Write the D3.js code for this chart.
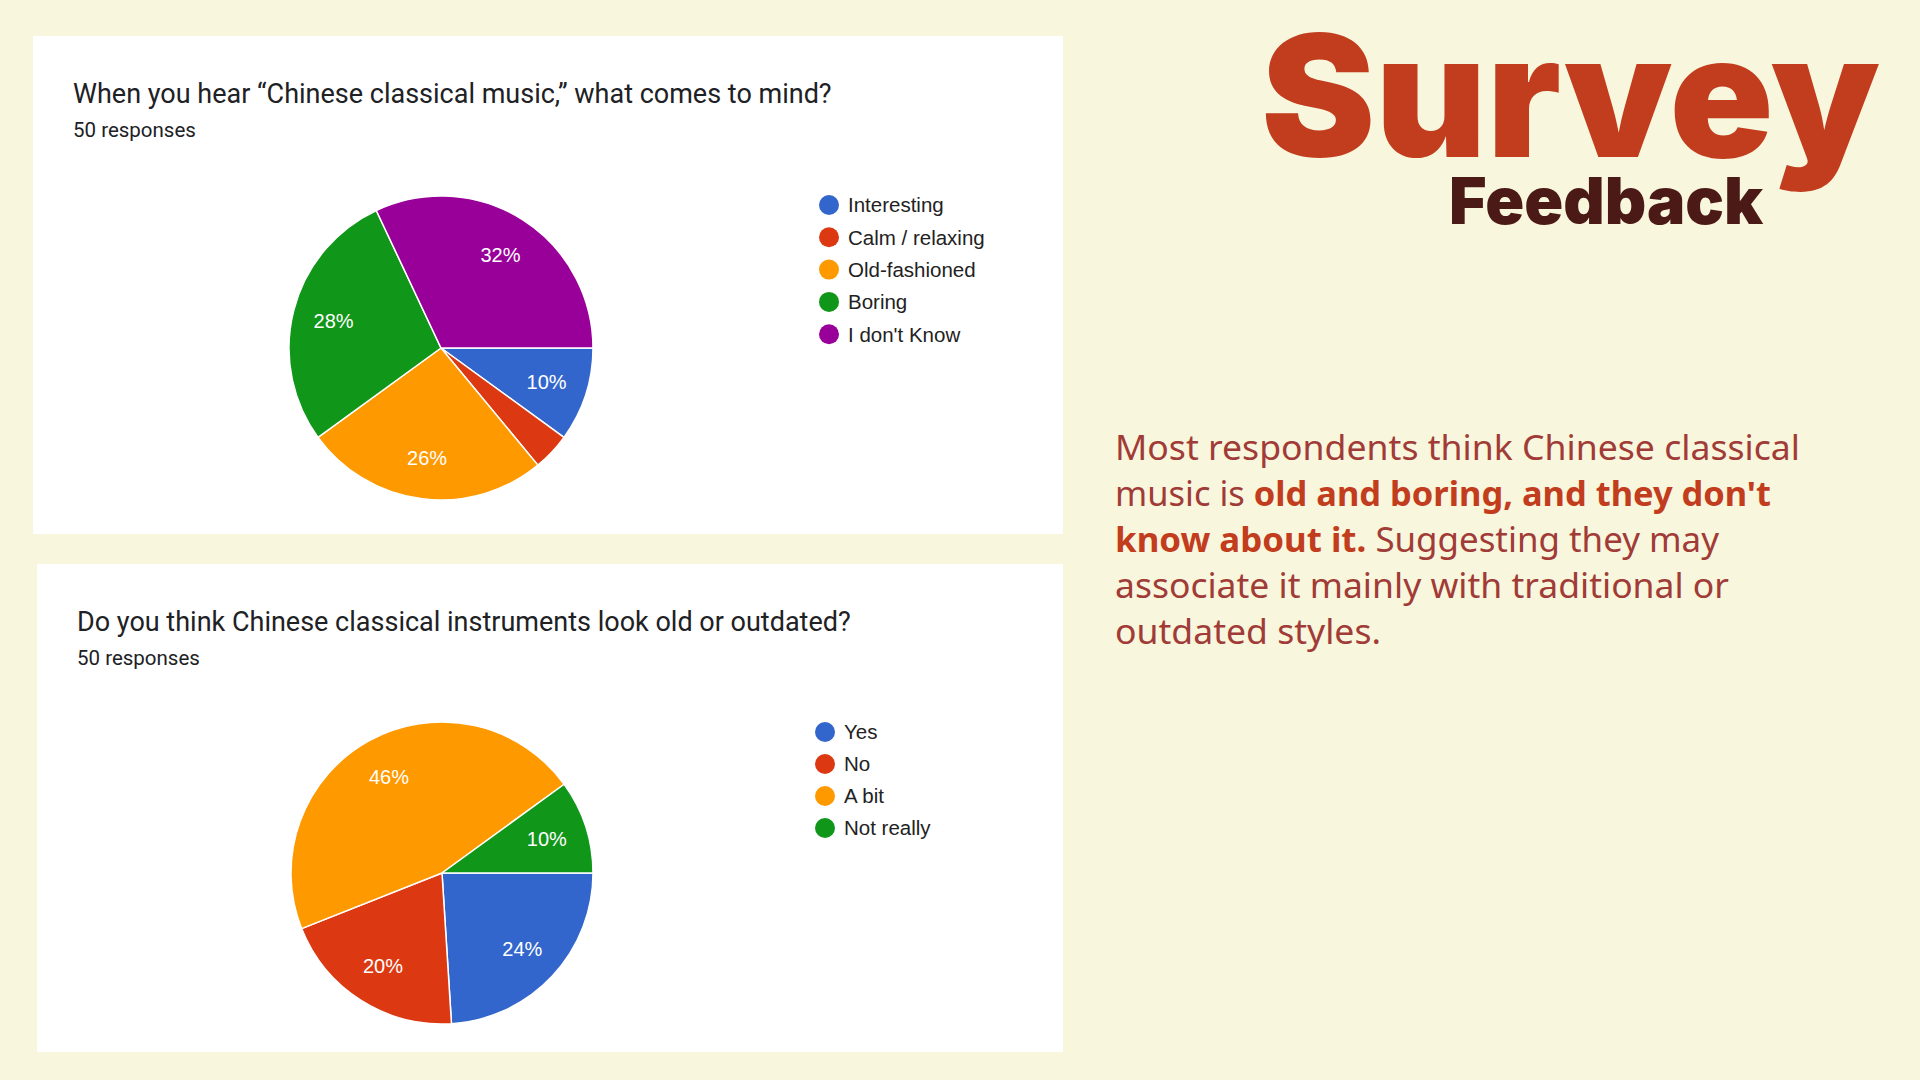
<!DOCTYPE html>
<html>
<head>
<meta charset="utf-8">
<script src="https://cdn.jsdelivr.net/npm/d3@7"></script>
<style>
  html, body { margin: 0; padding: 0; background: #F8F6DC; }
  svg { display: block; }
</style>
</head>
<body>
<svg id="chart" width="1920" height="1080"></svg>
<script>
// ---------- DATA ----------
const q1Title = "When you hear \u201CChinese classical music,\u201D what comes to mind?";
const q1Responses = "50 responses";
const q1Categories = ["Interesting", "Calm / relaxing", "Old-fashioned", "Boring", "I don't Know"];
const q1Values = [10, 4, 26, 28, 32];

const q2Title = "Do you think Chinese classical instruments look old or outdated?";
const q2Responses = "50 responses";
const q2Categories = ["Yes", "No", "A bit", "Not really"];
const q2Values = [24, 20, 46, 10];

const sliceColors = ["#3366cc", "#dc3912", "#ff9900", "#109618", "#990099"];

const headline = "Survey";
const subHeadline = "Feedback";
// paragraph lines: [text, bold?] segments
const paragraphLines = [
  [["Most respondents think Chinese classical", false]],
  [["music is ", false], ["old and boring, and they don't", true]],
  [["know about it.", true], [" Suggesting they may", false]],
  [["associate it mainly with traditional or", false]],
  [["outdated styles.", false]]
];

// ---------- LAYOUT ----------
const svg = d3.select("#chart");
svg.append("rect").attr("width", 1920).attr("height", 1080).attr("fill", "#F8F6DC");

const cards = [
  { x: 33, y: 36, w: 1030, h: 498, title: q1Title, resp: q1Responses, cats: q1Categories, vals: q1Values,
    tx: 73, ty: 103, ry: 137, cx: 441, cy: 348, r: 152, lx: 829, ly: 205, lstep: 32.3 },
  { x: 37, y: 564, w: 1026, h: 488, title: q2Title, resp: q2Responses, cats: q2Categories, vals: q2Values,
    tx: 77, ty: 631, ry: 665, cx: 442, cy: 873, r: 151, lx: 825, ly: 732, lstep: 32 }
];

const color = d3.scaleOrdinal().domain(d3.range(5)).range(sliceColors);

cards.forEach(c => {
  svg.append("rect").attr("x", c.x).attr("y", c.y).attr("width", c.w).attr("height", c.h).attr("fill", "#ffffff");
  svg.append("text").attr("x", c.tx).attr("y", c.ty)
    .attr("font-family", "Roboto, 'Noto Sans', sans-serif").attr("font-size", 27)
    .attr("fill", "#202124").text(c.title);
  svg.append("text").attr("x", c.tx).attr("y", c.ry)
    .attr("font-family", "Roboto, 'Noto Sans', sans-serif").attr("font-size", 20.5)
    .attr("fill", "#202124").text(c.resp);

  const total = d3.sum(c.vals);
  const pie = d3.pie().sort(null).value(d => d)
    .startAngle(Math.PI / 2).endAngle(Math.PI / 2 + 2 * Math.PI);
  const arcs = pie(c.vals);
  const arc = d3.arc().innerRadius(0).outerRadius(c.r);
  const labelArc = d3.arc().innerRadius(c.r * 0.73).outerRadius(c.r * 0.73);

  const g = svg.append("g").attr("transform", `translate(${c.cx},${c.cy})`);
  g.selectAll("path").data(arcs).join("path")
    .attr("d", arc)
    .attr("fill", (d, i) => color(i))
    .attr("stroke", "#ffffff").attr("stroke-width", 1.5).attr("stroke-linejoin", "round");

  g.selectAll("text").data(arcs.filter(d => d.data / total >= 0.05)).join("text")
    .attr("transform", d => `translate(${labelArc.centroid(d)})`)
    .attr("text-anchor", "middle").attr("dy", "0.36em")
    .attr("font-family", "Arial, 'Liberation Sans', sans-serif").attr("font-size", 20)
    .attr("fill", "#ffffff")
    .text(d => Math.round(d.data / total * 100) + "%");

  const leg = svg.append("g");
  const items = leg.selectAll("g").data(c.cats).join("g")
    .attr("transform", (d, i) => `translate(${c.lx},${c.ly + i * c.lstep})`);
  items.append("circle").attr("r", 10).attr("fill", (d, i) => color(i));
  items.append("text").attr("x", 19).attr("dy", "0.36em")
    .attr("font-family", "Arial, 'Liberation Sans', sans-serif").attr("font-size", 20.5)
    .attr("fill", "#222222").text(d => d);
});

// ---------- HEADLINE ----------
svg.append("text").attr("x", 1261).attr("y", 157)
  .attr("font-family", "Inter, Lato, 'Open Sans', sans-serif").attr("font-weight", 900)
  .attr("font-size", 170).attr("fill", "#C23C1E")
  .attr("textLength", 619).attr("lengthAdjust", "spacingAndGlyphs")
  .text(headline);

svg.append("text").attr("x", 1449).attr("y", 224)
  .attr("font-family", "Inter, Lato, 'Open Sans', sans-serif").attr("font-weight", 900)
  .attr("font-size", 65).attr("fill", "#4B1A17")
  .attr("textLength", 314).attr("lengthAdjust", "spacingAndGlyphs")
  .text(subHeadline);

// ---------- PARAGRAPH ----------
const lineWidths = [685, 656, 604, 614, 266];
paragraphLines.forEach((segs, i) => {
  const t = svg.append("text").attr("x", 1115).attr("y", 460 + i * 46)
    .attr("font-family", "'Noto Sans', 'Open Sans', sans-serif").attr("font-size", 34)
    .attr("xml:space", "preserve");
  segs.forEach(([s, bold]) => {
    t.append("tspan").text(s)
      .attr("font-weight", bold ? 700 : 400)
      .attr("fill", bold ? "#C23C1E" : "#A13B37");
  });
  t.attr("textLength", lineWidths[i]).attr("lengthAdjust", "spacingAndGlyphs");
});
</script>
</body>
</html>
